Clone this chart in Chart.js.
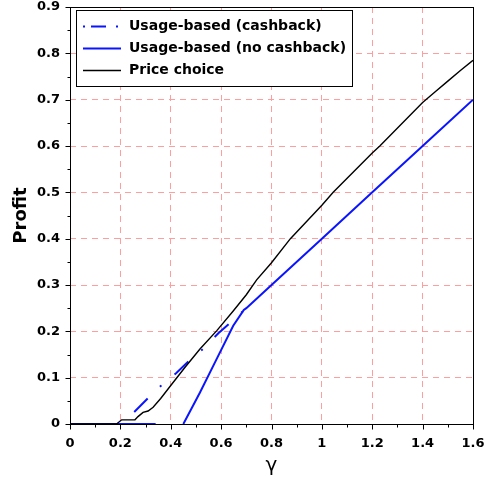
<!DOCTYPE html>
<html>
<head>
<meta charset="utf-8">
<script src="https://cdn.jsdelivr.net/npm/chart.js@4/dist/chart.umd.min.js"></script>
<style>
  html, body { margin: 0; padding: 0; background: #fff; }
</style>
</head>
<body>
<canvas id="profitChart" width="486" height="480"></canvas>
<script>
// gamma on x, profit on y
const seriesLabels = ['Usage-based (cashback)', 'Usage-based (no cashback)', 'Price choice'];

const cashbackGamma  = [0.255, 0.31, 0.364, 0.42, 0.476, 0.53, 0.589, 0.637, 0.705];
const cashbackProfit = [0.026, 0.056, 0.084, 0.109, 0.138, 0.163, 0.196, 0.219, 0.252];

const noCashbackGamma  = [0, 0.34, 0.40, 0.45, 0.516, 0.582, 0.648, 0.69, 0.70, 0.8, 1.0, 1.2, 1.4, 1.6];
const noCashbackProfit = [0, 0, null, 0, 0.068, 0.140, 0.212, 0.246, 0.25, 0.30, 0.40, 0.50, 0.60, 0.70];

const priceGamma  = [0, 0.185, 0.205, 0.258, 0.27, 0.29, 0.31, 0.33, 0.36, 0.40, 0.456, 0.516, 0.582, 0.648, 0.70, 0.741, 0.8, 0.875, 1.0, 1.045, 1.2, 1.23, 1.4, 1.45, 1.5, 1.55, 1.6];
const priceProfit = [0, 0, 0.009, 0.009, 0.016, 0.025, 0.028, 0.036, 0.055, 0.083, 0.122, 0.162, 0.201, 0.244, 0.279, 0.311, 0.348, 0.40, 0.472, 0.50, 0.585, 0.60, 0.694, 0.717, 0.74, 0.763, 0.785];

const xTickValues = [0, 0.2, 0.4, 0.6, 0.8, 1, 1.2, 1.4, 1.6];
const yTickValues = [0, 0.1, 0.2, 0.3, 0.4, 0.5, 0.6, 0.7, 0.8, 0.9];

const toPoints = (xs, ys) => xs.map((x, i) => ({ x: x, y: ys[i] }));

const BLUE = '#0a14ff';
const GRID = '#ff9e9e';
const FONT = 'DejaVu Sans';
const cashbackDash = [19, 17, 2, 17];

// frame, outward minor/major ticks and the boxed legend
const framePlugin = {
    id: 'frame',
    afterDraw(chart) {
        const { ctx, chartArea: a, scales } = chart;
        ctx.save();
        ctx.strokeStyle = '#000';
        ctx.lineWidth = 1;
        ctx.setLineDash([]);
        ctx.strokeRect(Math.round(a.left) + 0.5, Math.round(a.top) + 0.5,
            Math.round(a.right) - Math.round(a.left), Math.round(a.bottom) - Math.round(a.top));

        const bottom = Math.round(a.bottom) + 0.5;
        const left = Math.round(a.left) + 0.5;
        ctx.beginPath();
        for (let i = 0; i <= 16; i++) {
            const px = Math.round(scales.x.getPixelForValue(i / 10)) + 0.5;
            ctx.moveTo(px, bottom);
            ctx.lineTo(px, bottom + (i % 2 === 0 ? 5 : 3));
        }
        for (let i = 0; i <= 18; i++) {
            const py = Math.round(scales.y.getPixelForValue(i / 20)) + 0.5;
            ctx.moveTo(left, py);
            ctx.lineTo(left - (i % 2 === 0 ? 5 : 3), py);
        }
        ctx.stroke();

        // legend
        const bx = 76.5, by = 10.5, bw = 276, bh = 76;
        ctx.fillStyle = '#fff';
        ctx.fillRect(bx, by, bw, bh);
        ctx.strokeRect(bx, by, bw, bh);
        const rows = [
            { color: BLUE, width: 2, dash: [2, 6, 15, 10] },
            { color: BLUE, width: 2, dash: [] },
            { color: '#000', width: 1.4, dash: [] }
        ];
        ctx.font = 'bold 14px "' + FONT + '"';
        ctx.textBaseline = 'middle';
        rows.forEach((r, i) => {
            const cy = 26.5 + i * 22;
            ctx.strokeStyle = r.color;
            ctx.lineWidth = r.width;
            ctx.setLineDash(r.dash);
            ctx.beginPath();
            ctx.moveTo(83, cy);
            ctx.lineTo(121, cy);
            ctx.stroke();
            ctx.setLineDash([]);
            ctx.fillStyle = '#000';
            ctx.fillText(seriesLabels[i], 129, cy);
        });
        ctx.restore();
    }
};

new Chart(document.getElementById('profitChart'), {
    type: 'line',
    data: {
        datasets: [
            {
                label: seriesLabels[0],
                data: toPoints(cashbackGamma, cashbackProfit),
                borderColor: BLUE,
                borderWidth: 2,
                borderDash: cashbackDash,
                pointRadius: 0,
                tension: 0,
                order: 2
            },
            {
                label: seriesLabels[1],
                data: toPoints(noCashbackGamma, noCashbackProfit),
                borderColor: BLUE,
                borderWidth: 2,
                pointRadius: 0,
                spanGaps: false,
                tension: 0,
                order: 1
            },
            {
                label: seriesLabels[2],
                data: toPoints(priceGamma, priceProfit),
                borderColor: '#000',
                borderWidth: 1.4,
                pointRadius: 0,
                tension: 0,
                order: 0
            }
        ]
    },
    options: {
        responsive: false,
        animation: false,
        layout: { padding: { top: 7, right: 13, left: 0, bottom: 0 } },
        plugins: {
            legend: { display: false },
            tooltip: { enabled: false }
        },
        scales: {
            x: {
                type: 'linear',
                min: 0,
                max: 1.6,
                afterBuildTicks: s => { s.ticks = xTickValues.map(v => ({ value: v })); },
                afterFit: s => { s.height = 56; s.paddingLeft = 0; s.paddingRight = 0; },
                ticks: {
                    color: '#000',
                    padding: 12,
                    maxRotation: 0,
                    callback: v => String(v),
                    font: { family: FONT, size: 13, weight: 'bold' }
                },
                grid: {
                    drawTicks: false,
                    color: ctx => (ctx.index === 0 || ctx.index === xTickValues.length - 1) ? 'rgba(0,0,0,0)' : GRID,
                    lineWidth: 1
                },
                border: { display: false, dash: [6, 5] },
                title: {
                    display: true,
                    text: 'γ',
                    color: '#000',
                    padding: { top: 2, bottom: 2 },
                    font: { family: FONT, size: 20 }
                }
            },
            y: {
                type: 'linear',
                min: 0,
                max: 0.9,
                afterBuildTicks: s => { s.ticks = yTickValues.map(v => ({ value: v })); },
                afterFit: s => { s.width = 70; s.paddingTop = 0; s.paddingBottom = 0; },
                ticks: {
                    color: '#000',
                    padding: 10,
                    callback: v => String(v),
                    font: { family: FONT, size: 13, weight: 'bold' }
                },
                grid: {
                    drawTicks: false,
                    color: ctx => (ctx.index === 0 || ctx.index === yTickValues.length - 1) ? 'rgba(0,0,0,0)' : GRID,
                    lineWidth: 1
                },
                border: { display: false, dash: [6, 5] },
                title: {
                    display: true,
                    text: 'Profit',
                    color: '#000',
                    padding: { top: 11, bottom: 0 },
                    font: { family: FONT, size: 18, weight: 'bold' }
                }
            }
        }
    },
    plugins: [framePlugin]
});
</script>
</body>
</html>
